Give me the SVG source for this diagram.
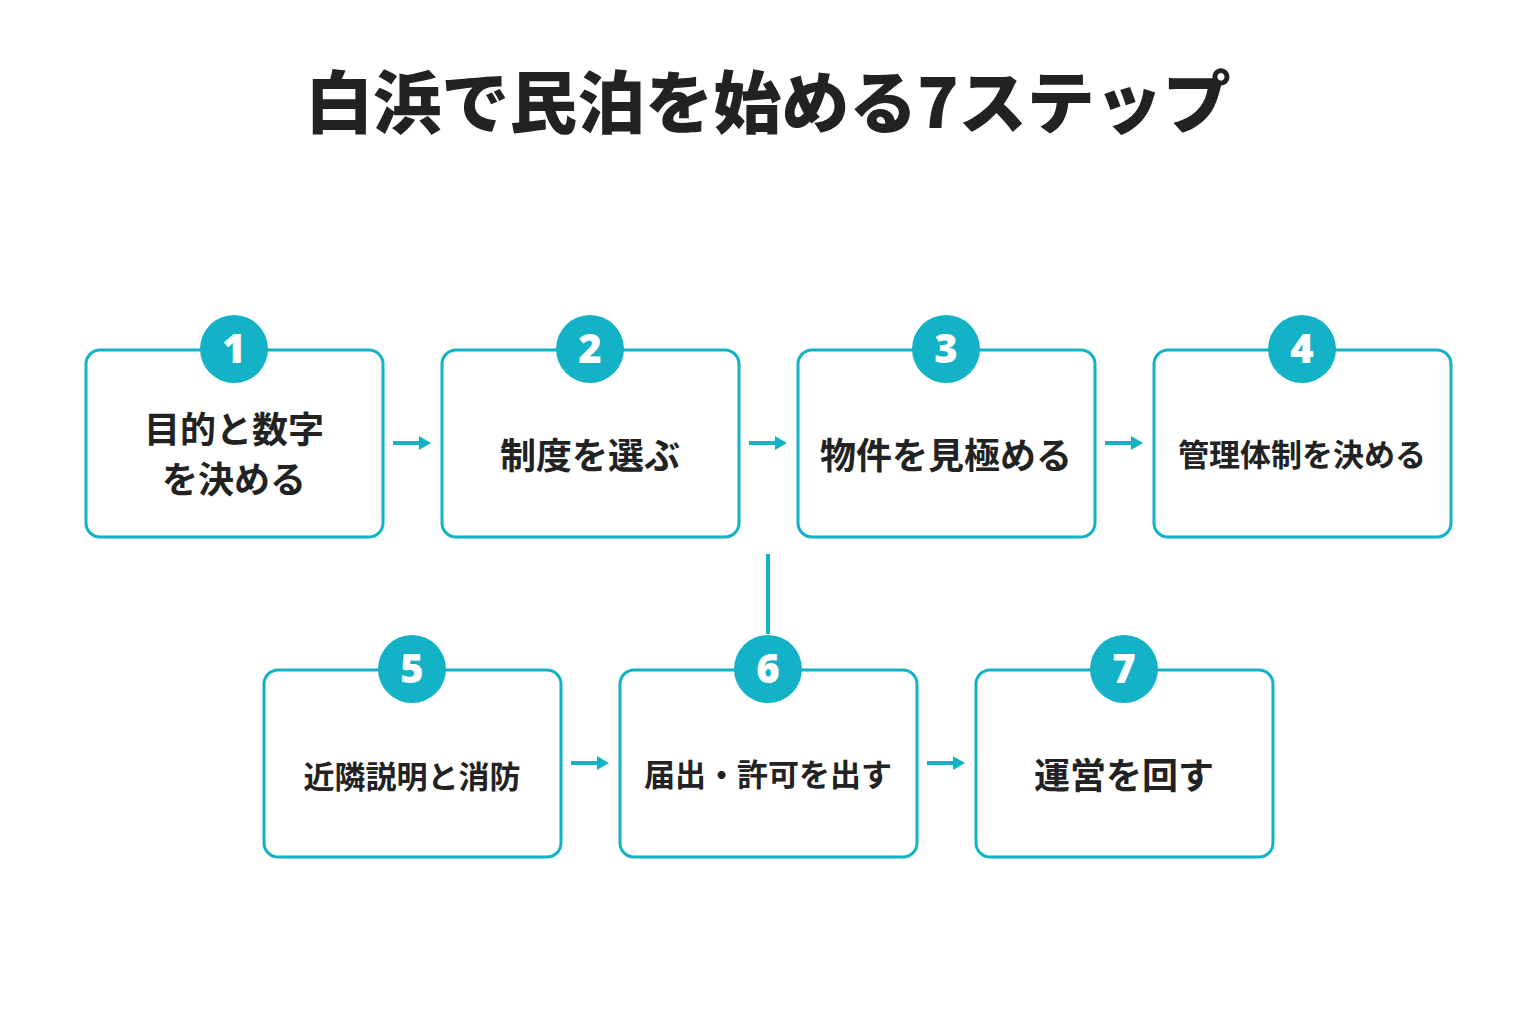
<svg xmlns="http://www.w3.org/2000/svg" width="1536" height="1024" viewBox="0 0 1536 1024">
<style>
.box{fill:#fff;stroke:#13b2c6;stroke-width:3}
.c{fill:#13b2c6}
.n{font-family:"Noto Sans","Liberation Sans",sans-serif;font-weight:900;font-size:40px;fill:#fff;text-anchor:middle}
.t{font-family:"Noto Sans CJK JP",sans-serif;font-weight:700;font-size:36px;fill:#222;text-anchor:middle}
.s{font-size:31px}
.ln{stroke:#13b2c6;stroke-width:4;fill:none}
</style>
<defs><marker id="ah" markerWidth="12" markerHeight="14" refX="0" refY="7" orient="auto" markerUnits="userSpaceOnUse"><path d="M0,0 L12,7 L0,14Z" fill="#13b2c6"/></marker></defs>
<rect width="1536" height="1024" fill="#fff"/>
<text x="768" y="128" font-family="Noto Sans CJK JP,sans-serif" font-weight="900" font-size="68" fill="#222" text-anchor="middle">白浜で民泊を始める7ステップ</text>
<g id="connectors">
<line class="ln" x1="393" y1="443" x2="419" y2="443" marker-end="url(#ah)"/>
<line class="ln" x1="749" y1="443" x2="775" y2="443" marker-end="url(#ah)"/>
<line class="ln" x1="1105" y1="443" x2="1131" y2="443" marker-end="url(#ah)"/>
<line class="ln" x1="768" y1="554" x2="768" y2="634"/>
<line class="ln" x1="571" y1="763" x2="597" y2="763" marker-end="url(#ah)"/>
<line class="ln" x1="927" y1="763" x2="953" y2="763" marker-end="url(#ah)"/>
</g>
<g id="n1"><rect class="box" x="86" y="350" width="297" height="187" rx="14"/><circle class="c" cx="234" cy="349" r="34"/><text class="n" x="234" y="363">1</text><text class="t" x="234" y="443">目的と数字</text><text class="t" x="234" y="493">を決める</text></g>
<g id="n2"><rect class="box" x="442" y="350" width="297" height="187" rx="14"/><circle class="c" cx="590" cy="349" r="34"/><text class="n" x="590" y="363">2</text><text class="t" x="590" y="469">制度を選ぶ</text></g>
<g id="n3"><rect class="box" x="798" y="350" width="297" height="187" rx="14"/><circle class="c" cx="946" cy="349" r="34"/><text class="n" x="946" y="363">3</text><text class="t" x="946" y="469">物件を見極める</text></g>
<g id="n4"><rect class="box" x="1154" y="350" width="297" height="187" rx="14"/><circle class="c" cx="1302" cy="349" r="34"/><text class="n" x="1302" y="363">4</text><text class="t s" x="1302" y="466">管理体制を決める</text></g>
<g id="n5"><rect class="box" x="264" y="670" width="297" height="187" rx="14"/><circle class="c" cx="412" cy="669" r="34"/><text class="n" x="412" y="683">5</text><text class="t s" x="412" y="788">近隣説明と消防</text></g>
<g id="n6"><rect class="box" x="620" y="670" width="297" height="187" rx="14"/><circle class="c" cx="768" cy="669" r="34"/><text class="n" x="768" y="683">6</text><text class="t s" x="768" y="786">届出・許可を出す</text></g>
<g id="n7"><rect class="box" x="976" y="670" width="297" height="187" rx="14"/><circle class="c" cx="1124" cy="669" r="34"/><text class="n" x="1124" y="683">7</text><text class="t" x="1124" y="789">運営を回す</text></g>
</svg>
